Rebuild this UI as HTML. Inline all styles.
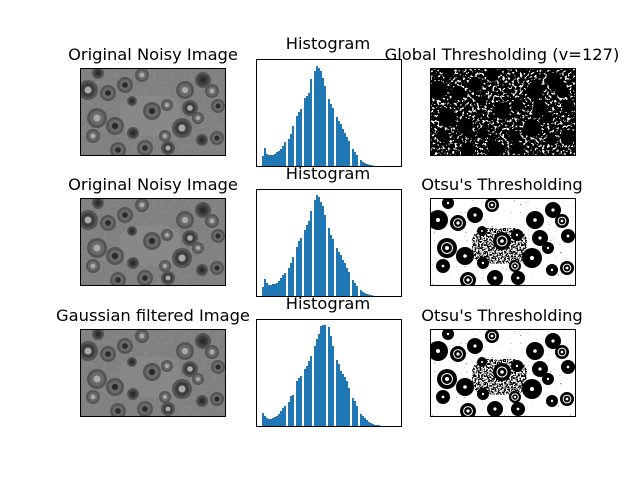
<!DOCTYPE html>
<html><head><meta charset="utf-8"><style>
body{margin:0;background:#fff;width:640px;height:480px;overflow:hidden}
svg text{font-family:"DejaVu Sans","Liberation Sans",sans-serif;font-size:16.3px;fill:#000}
</style></head><body>
<svg id="fig" width="640" height="480">
<defs>
<filter id="noise" x="0" y="0" width="100%" height="100%">
<feTurbulence type="fractalNoise" baseFrequency="0.3" numOctaves="3" seed="3" result="t"/>
<feColorMatrix in="t" type="matrix" values="0 0 0 0 0.25  0 0 0 0 0.25  0 0 0 0 0.25  -2.4 0 0 0 1.3" result="n"/>
<feComposite in="n" in2="SourceGraphic" operator="over"/>
</filter>
<filter id="specW" x="0" y="0" width="100%" height="100%">
<feTurbulence type="fractalNoise" baseFrequency="0.4" numOctaves="2" seed="7" result="t"/>
<feColorMatrix in="t" type="matrix" values="1 0 0 0 0  1 0 0 0 0  1 0 0 0 0  1 0 0 0 0" result="g"/>
<feComponentTransfer in="g" result="b"><feFuncR type="discrete" tableValues="0 0 0 0 0 0 1 1 1 1"/><feFuncG type="discrete" tableValues="0 0 0 0 0 0 1 1 1 1"/><feFuncB type="discrete" tableValues="0 0 0 0 0 0 1 1 1 1"/><feFuncA type="discrete" tableValues="0 0 0 0 0 0 1 1 1 1"/></feComponentTransfer>
<feComposite in="b" in2="SourceGraphic" operator="over"/>
</filter>
<filter id="specB" x="0" y="0" width="100%" height="100%">
<feTurbulence type="fractalNoise" baseFrequency="0.5" numOctaves="2" seed="11" result="t"/>
<feColorMatrix in="t" type="matrix" values="0 0 0 0 0  0 0 0 0 0  0 0 0 0 0  1 0 0 0 0" result="g"/>
<feComponentTransfer in="g" result="b"><feFuncA type="discrete" tableValues="0 0 0 0 0 0 0 0 0.9 0.9"/></feComponentTransfer>
<feComposite in="b" in2="SourceGraphic" operator="over"/>
</filter>
<filter id="specD" x="0" y="0" width="100%" height="100%">
<feTurbulence type="fractalNoise" baseFrequency="0.6" numOctaves="2" seed="5" result="t"/>
<feColorMatrix in="t" type="matrix" values="0 0 0 0 0  0 0 0 0 0  0 0 0 0 0  1 0 0 0 0" result="g"/>
<feComponentTransfer in="g" result="b"><feFuncA type="discrete" tableValues="0 0 0 0 0 1 1 1 1 1"/></feComponentTransfer>
<feComposite in="b" in2="SourceGraphic" operator="over"/>
</filter>
</defs>
</svg>
<script>
const hist1 = [10,18,12,11,11,11,12,14,15,17,20,24,25,27,32,40,45,50,54,57,60,68,70,73,87,90,95,100,98,95,88,80,76,67,62,58,52,49,45,42,37,33,29,25,20,17,14,11,8,6,4,3,2,1.5,1,0.5];
const hist2 = [9,17,13,11,11,12,12,13,15,18,21,23,26,28,33,39,46,49,55,58,62,66,71,75,85,92,96,101,99,94,90,81,74,68,61,57,53,48,44,41,36,33,28,24,21,16,13,10,8,6,4,3,2,1.5,1,0.5];
const hist3 = [13,10,8,7,7,8,9,10,12,15,18,20,21,24,30,31,38,45,48,50,53,57,60,65,70,76,80,87,92,100,101,101,98,99,90,80,73,66,62,55,52,49,45,38,34,28,25,20,16,12,10,8,6,4,3,2,1,1,1];
const gapBins = [12,16,20,25,32,36,44,48];
const histYMax = 107;
const titles = [["Original Noisy Image","Histogram","Global Thresholding (v=127)"],["Original Noisy Image","Histogram","Otsu's Thresholding"],["Gaussian filtered Image","Histogram","Otsu's Thresholding"]];
const NS="http://www.w3.org/2000/svg";
const fig=document.getElementById('fig');
function mk(tag,attrs,parent){const e=document.createElementNS(NS,tag);for(const k in attrs)e.setAttribute(k,attrs[k]);(parent||fig).appendChild(e);return e;}
const rowsImgY=[68,198,329], rowsHistY=[59,189,319];
const blobs=[[18,5,6],[62,7,7],[45,17,8],[8,22,10],[28,25,8],[105,22,9],[123,12,8],[132,23,7],[138,38,7],[110,40,8],[72,43,9],[87,37,6],[52,33,5],[17,50,10],[35,58,9],[102,60,10],[137,70,7],[13,68,7],[53,65,6],[85,68,6],[65,80,8],[88,80,7],[38,82,8],[118,50,6],[122,72,6]];
function image(x,y,kind,name,blur){
  const g=mk('g',{transform:`translate(${x},${y})`});
  
  
  const W=146,H=88;
  const cp='c'+name;
  const clip=mk('clipPath',{id:cp},g);mk('rect',{width:W,height:H},clip);
  const inner=mk('g',{'clip-path':`url(#${cp})`},g);
  if(kind==='gray'){
    mk('rect',{width:W,height:H,fill:'#808080',filter:'url(#noise)'},inner);
    mk('rect',{x:40,y:28,width:60,height:40,rx:15,fill:'#8a8a8a',opacity:0.8},inner);
    blobs.forEach((b,i)=>{
      mk('circle',{cx:b[0],cy:b[1],r:b[2],fill:'#555'},inner);
      mk('circle',{cx:b[0],cy:b[1],r:b[2]*0.7,fill:i%3?'#6a6a6a':'#3e3e3e'},inner);
      mk('circle',{cx:b[0],cy:b[1],r:b[2]*0.35,fill:i%2?'#aaa':'#2a2a2a'},inner);
    });
  } else if(kind==='global'){
    mk('rect',{width:W,height:H,fill:'#000',filter:'url(#specW)'},inner);
    blobs.forEach(b=>{mk('circle',{cx:b[0],cy:b[1],r:b[2]*0.9,fill:'#000'},inner);});
  } else {
    mk('rect',{width:W,height:H,fill:'#fff',filter:'url(#specB)'},inner);
    const pc='p'+name;
    const pclip=mk('clipPath',{id:pc},inner);mk('rect',{x:42,y:30,width:55,height:36,rx:14},pclip);
    mk('rect',{x:42,y:30,width:55,height:36,fill:'#fff',filter:'url(#specD)','clip-path':`url(#${pc})`},inner);
    blobs.forEach((b,i)=>{
      mk('circle',{cx:b[0],cy:b[1],r:b[2],fill:'#000'},inner);
      if(i%3===1)mk('circle',{cx:b[0],cy:b[1],r:b[2]*0.55,fill:'none',stroke:'#fff','stroke-width':1},inner);
      mk('circle',{cx:b[0],cy:b[1],r:b[2]*0.2,fill:'#fff'},inner);
    });
  }
  mk('rect',{x:0.5,y:0.5,width:W-1,height:H-1,fill:'none',stroke:'#000','stroke-width':1},g);
}
function histogram(y0,vals,name){
  const left=256,w=145,h=107;
  const g=mk('g',{});
  
  
  const xs=i=>262+i*2;
  const ys=v=>y0+h-v/histYMax*h;
  vals.forEach((v,i)=>{
    if(gapBins.includes(i))return;
    const r=mk('rect',{x:xs(i),y:ys(v),width:2,height:(y0+h)-ys(v),fill:'#1f77b4'},g);
    
    
  });
  mk('rect',{x:left+0.5,y:y0+0.5,width:w,height:h,fill:'none',stroke:'#000','stroke-width':1},g);
}
const hists=[hist1,hist2,hist3];
for(let r=0;r<3;r++){
  image(80,rowsImgY[r],'gray','noisy-image-'+(r+1),r===2);
  image(430,rowsImgY[r],r===0?'global':'otsu','threshold-image-'+(r+1));
  histogram(rowsHistY[r],hists[r],'histogram-'+(r+1));
  const cx=[153,328,502], ty=[rowsImgY[r]-8,rowsHistY[r]-10,rowsImgY[r]-8];
  for(let c=0;c<3;c++){
    const t=mk('text',{x:cx[c],y:ty[c],'text-anchor':'middle'});
    
    
    t.textContent=titles[r][c];
  }
}
</script>
</body></html>
